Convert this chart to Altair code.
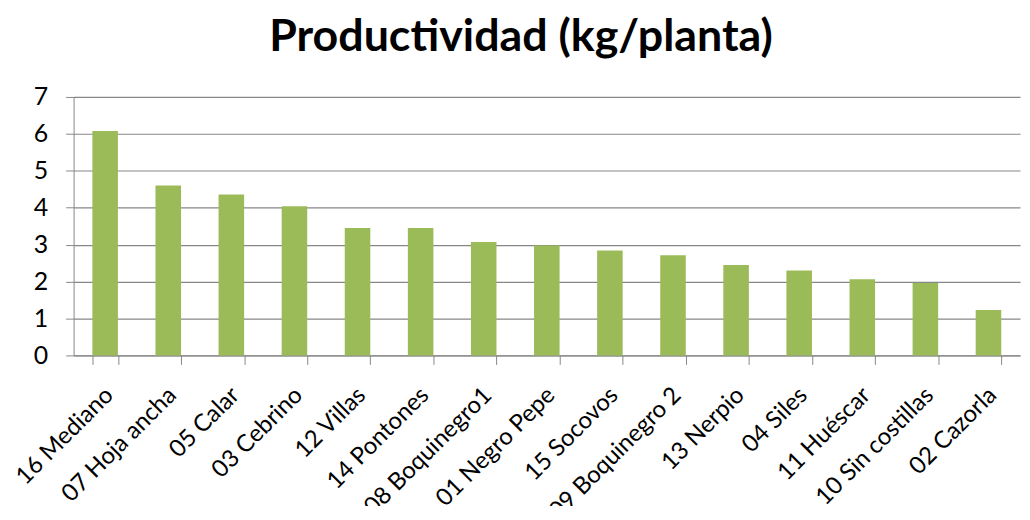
import altair as alt
import pandas as pd

categories = ["16 Mediano", "07 Hoja ancha", "05 Calar", "03 Cebrino", "12 Villas",
              "14 Pontones", "08 Boquinegro1", "01 Negro Pepe", "15 Socovos",
              "09 Boquinegro 2", "13 Nerpio", "04 Siles", "11 Huéscar",
              "10 Sin costillas", "02 Cazorla"]
values = [6.08, 4.60, 4.36, 4.04, 3.45, 3.45, 3.07, 2.98, 2.84, 2.71, 2.45, 2.30, 2.06, 1.96, 1.23]
y_ticks = [0, 1, 2, 3, 4, 5, 6, 7]

df = pd.DataFrame({"cat": categories, "val": values})

FONT = "Lato"
GRID = "#878787"

chart = alt.Chart(df).mark_bar(color="#9BBB59").encode(
    x=alt.X("cat:N", sort=categories, title=None,
            scale=alt.Scale(paddingInner=0.595, paddingOuter=0.2975),
            axis=alt.Axis(labelAngle=-45, labelAlign="right", labelBaseline="middle",
                          labelFont=FONT, labelFontSize=24, labelColor="#000000",
                          labelPadding=27, labelOffset=4, tickBand="extent", tickSize=9,
                          tickColor=GRID, domainColor=GRID, labelOverlap=False,
                          labelLimit=0, grid=False)),
    y=alt.Y("val:Q", title=None,
            scale=alt.Scale(domain=[0, 7], nice=False),
            axis=alt.Axis(values=y_ticks, format="d", labelFont=FONT, labelFontSize=25,
                          labelColor="#000000", labelPadding=18, tickSize=8,
                          tickColor=GRID, domainColor=GRID, gridColor=GRID,
                          gridWidth=1.2, grid=True, minExtent=66)),
).properties(
    width=952,
    height=260,
    title=alt.TitleParams("Productividad (kg/planta)", font=FONT, fontSize=45,
                          fontWeight="bold", color="#000000", anchor="middle",
                          dx=-26, offset=25),
    padding={"left": 66, "top": 88, "right": 2, "bottom": 150},
    autosize=alt.AutoSizeParams(type="none"),
).configure_view(stroke=None)

chart.save("out.html", embed_options={"renderer": "svg", "actions": False})
